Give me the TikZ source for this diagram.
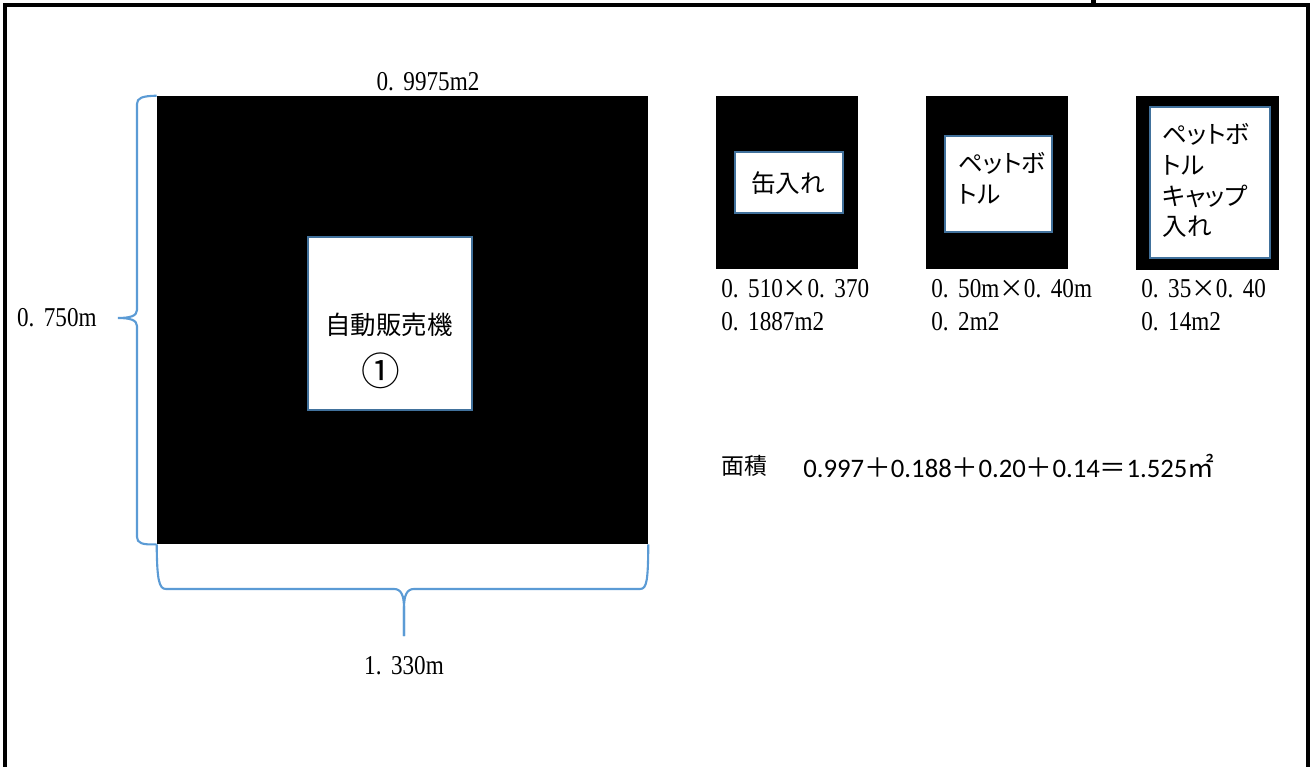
\documentclass[tikz,border=0pt]{standalone}
\usepackage{fontspec}
\setmainfont{Liberation Serif}
\newfontfamily\mincho[FakeStretch=0.85]{Liberation Serif}
\newfontfamily\jp{Noto Sans CJK JP}
\newfontfamily\jpp[RawFeature=+palt]{Noto Sans CJK JP}
\newfontfamily\calib{Carlito}
\usetikzlibrary{positioning}

\definecolor{boxline}{HTML}{41719C}
\definecolor{braceline}{HTML}{5B9BD5}

% full-width dot and times as in the original
\newcommand\fdot{.\hspace{.35em}}
\newcommand\ftimes{{\jp\fontsize{14}{18}\selectfont ×}}

\tikzset{
  blackbox/.style={fill=black, draw=none, inner sep=0pt},
  whitebox/.style={fill=white, draw=boxline, line width=0.9pt, inner sep=0pt},
  bracket/.style={draw=braceline, line width=1.2pt},
  dimtext/.style={font=\mincho\fontsize{15.5}{18}\selectfont, inner sep=0pt},
  jptext/.style={font=\jpp\fontsize{14}{17.6}\selectfont, inner sep=0pt, align=left},
}

\begin{document}
\begin{tikzpicture}[x=0.02cm, y=-0.02cm]
    \useasboundingbox (0,0) rectangle (1313,767);

    % frame
    \draw [line width=0.09cm] (5,767) -- (5,5) -- (1308,5) -- (1308,767);
    \draw [line width=0.1cm] (1093,0) -- (1093,5);

    % vending machine
    \node [blackbox, minimum width=9.82cm, minimum height=8.96cm] (vend) at (402.5,320) {};
    \node [whitebox, minimum width=3.28cm, minimum height=3.46cm] (vendin) at (390,323.5) {};
    \node [jptext, font=\jp\fontsize{14.5}{18}\selectfont] (vendname) at (389,325) {自動販売機};
    \node [jptext, font=\jp\fontsize{22}{26}\selectfont] (vendno) at (381,371) {①};
    \node [dimtext] (vendarea) at (428,82) {0\fdot 9975m2};

    % braces
    \draw [bracket]
        (vend.north west) .. controls (142,96) and (137,98) .. (137,104) -- (137,310)
        .. controls (137,316) and (130,318) .. (118,318) coordinate (htip)
        .. controls (130,318) and (137,320) .. (137,326) -- (137,537)
        .. controls (137,543) and (142,545) .. (vend.south west);
    \node [dimtext, left=0.42cm of htip] (vendheight) {0\fdot 750m};

    \draw [bracket]
        (vend.south west) .. controls (157,580) and (159,589) .. (166,589) -- (394,589)
        .. controls (401,589) and (404,595) .. (404,608) -- (404,636) coordinate (wtip);
    \draw [bracket]
        (wtip) -- (404,608) .. controls (404,595) and (407,589) .. (414,589) -- (640,589)
        .. controls (647,589) and (648,580) .. (vend.south east);
    \node [dimtext, below=0.4cm of wtip] (vendwidth) {1\fdot 330m};

    % can box
    \node [blackbox, minimum width=2.84cm, minimum height=3.46cm] (can) at (787,182.5) {};
    \node [whitebox, minimum width=2.16cm, minimum height=1.22cm] (canin) at (789,182.5) {};
    \node [jptext] (cantext) at (788,183) {缶入れ};
    \node [dimtext, anchor=west] (cansize) at (721,289) {0\fdot 510\ftimes 0\fdot 370};
    \node [dimtext, anchor=west] (canarea) at (721,322) {0\fdot 1887m2};

    % bottle box
    \node [blackbox, minimum width=2.84cm, minimum height=3.46cm] (pet) at (997,182.5) {};
    \node [whitebox, minimum width=2.14cm, minimum height=1.92cm] (petin) at (998.5,184) {};
    \node [jptext, anchor=west] (pettext) at (958,178.5) {ペットボ\\トル};
    \node [dimtext, anchor=west] (petsize) at (931,289) {0\fdot 50m\ftimes 0\fdot 40m};
    \node [dimtext, anchor=west] (petarea) at (931,322) {0\fdot 2m2};

    % cap box
    \node [blackbox, minimum width=2.86cm, minimum height=3.48cm] (cap) at (1207.5,183) {};
    \node [whitebox, minimum width=2.4cm, minimum height=3.02cm] (capin) at (1210,182.5) {};
    \node [jptext, anchor=west] (captext) at (1162,180.5) {ペットボ\\トル\\キャップ\\入れ};
    \node [dimtext, anchor=west] (capsize) at (1141,289) {0\fdot 35\ftimes 0\fdot 40};
    \node [dimtext, anchor=west] (caparea) at (1141,322) {0\fdot 14m2};

    % total
    \node [anchor=west, inner sep=0pt, font=\calib\fontsize{15.2}{18}\selectfont] (total) at (803,466)
        {0.997{\jp ＋}0.188{\jp ＋}0.20{\jp ＋}0.14{\jp ＝}1.525{\jp ㎡}};
    \node [inner sep=0pt, font=\jp\fontsize{13}{16}\selectfont, left=0.7cm of total] (totalword) {面積};
\end{tikzpicture}
\end{document}
